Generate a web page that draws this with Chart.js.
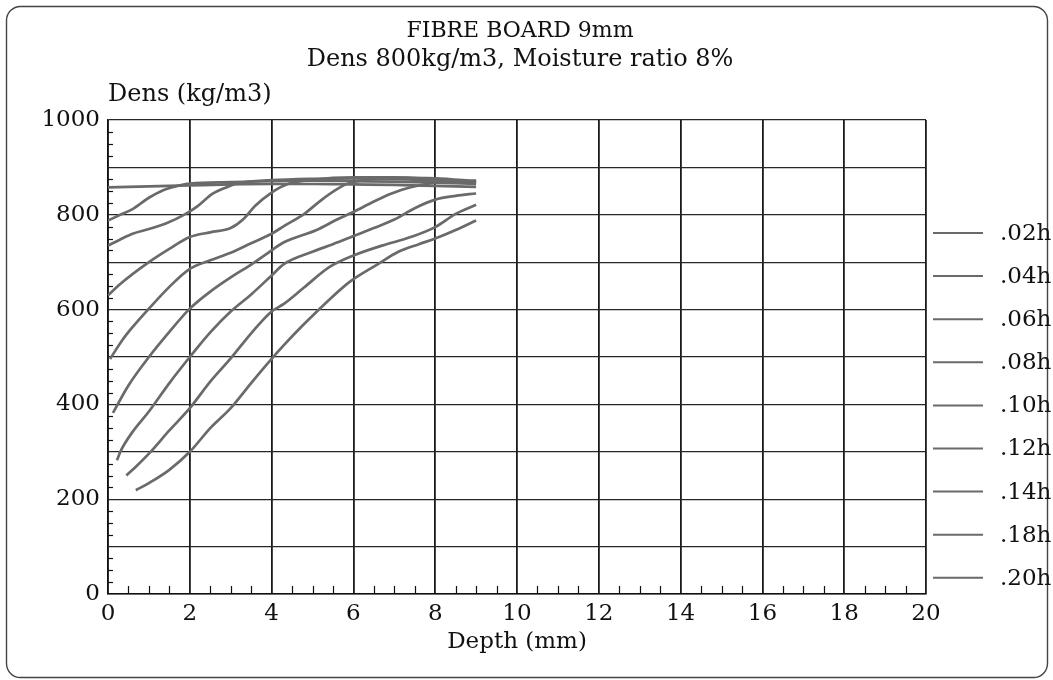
<!DOCTYPE html>
<html>
<head>
<meta charset="utf-8">
<script src="https://cdn.jsdelivr.net/npm/chart.js@4.4.0/dist/chart.umd.min.js"></script>
<style>
html,body{margin:0;padding:0;background:#fff;}
#wrap{width:1053px;height:680px;position:relative;}
</style>
</head>
<body>
<div id="wrap"><canvas id="c" width="1053" height="680"></canvas></div>
<script>
// ---- data (depth in mm, density in kg/m3) ----
const titleLines = ['FIBRE BOARD 9mm', 'Dens 800kg/m3, Moisture ratio 8%'];
const seriesLabels = ['.02h', '.04h', '.06h', '.08h', '.10h', '.12h', '.14h', '.18h', '.20h'];

const depth02 = [0, 1, 2, 3, 4, 5, 6, 7, 8, 9];
const dens02  = [858, 860, 862, 864, 865, 865, 864, 863, 861, 859];

const depth04 = [0, 0.3, 0.6, 1.0, 1.35, 1.7, 2.0, 3, 4, 5, 6, 7, 8, 9];
const dens04  = [788, 800, 812, 836, 852, 861, 866, 869, 871, 872, 871, 870, 868, 865];

const depth06 = [0, 0.3, 0.6, 1.0, 1.4, 1.9, 2.2, 2.55, 2.9, 3.2, 4, 5, 6, 7, 8, 9];
const dens06  = [735, 748, 760, 770, 781, 802, 819, 844, 858, 867, 873, 876, 877, 876, 872, 867];

const depth08 = [0, 0.3, 1.0, 1.5, 2.0, 2.5, 3.0, 3.3, 3.6, 4.0, 4.4, 5, 6, 7, 8, 9];
const dens08  = [630, 654, 700, 728, 753, 763, 772, 790, 819, 847, 865, 874, 879, 879, 875, 869];

const depth10 = [0.05, 0.37, 0.6, 1.0, 1.5, 2.0, 2.5, 3.0, 3.5, 4.0, 4.3, 4.8, 5.2, 5.6, 5.9, 7, 8, 9];
const dens10  = [496, 538, 563, 602, 648, 686, 704, 720, 740, 760, 776, 802, 830, 854, 867, 878, 877, 871];

const depth12 = [0.12, 0.5, 1.0, 1.5, 2.0, 2.5, 3.0, 3.5, 4.0, 4.3, 5.1, 5.6, 6.0, 6.5, 6.9, 7.4, 8.0, 9];
const dens12  = [382, 440, 500, 553, 602, 638, 668, 695, 725, 742, 768, 790, 806, 828, 844, 858, 868, 872];

const depth14 = [0.22, 0.3, 0.6, 1.0, 1.5, 2.0, 2.5, 3.0, 3.5, 4.0, 4.3, 5.0, 5.5, 6.0, 6.5, 7.0, 7.5, 8.0, 8.5, 9.0];
const dens14  = [282, 300, 342, 385, 445, 500, 552, 596, 632, 672, 696, 722, 738, 755, 772, 790, 814, 832, 840, 845];

const depth18 = [0.45, 0.7, 1.0, 1.5, 2.0, 2.5, 3.0, 3.5, 4.0, 4.3, 4.8, 5.4, 6.0, 6.7, 7.4, 8.0, 8.5, 9.0];
const dens18  = [250, 270, 296, 345, 392, 448, 497, 550, 596, 612, 647, 689, 714, 735, 753, 774, 802, 821];

const depth20 = [0.68, 1.0, 1.5, 2.0, 2.5, 3.0, 3.5, 4.0, 4.3, 4.8, 5.3, 5.9, 6.6, 7.1, 7.6, 8.0, 8.5, 9.0];
const dens20  = [219, 234, 262, 300, 350, 392, 445, 496, 525, 570, 612, 658, 696, 722, 738, 750, 768, 788];

const xTickStep = 2;
const yTickStep = 100;
const yLabelStep = 200;

const seriesDepths = [depth02, depth04, depth06, depth08, depth10, depth12, depth14, depth18, depth20];
const seriesDens   = [dens02, dens04, dens06, dens08, dens10, dens12, dens14, dens18, dens20];

// ---- styling ----
const FONT = '"DejaVu Serif", "Liberation Serif", serif';
const LINE_COLOR = '#6a6a6a';
const INK = '#111';

const datasets = seriesLabels.map((lab, i) => ({
  label: lab,
  data: seriesDepths[i].map((x, j) => ({x: x, y: seriesDens[i][j]})),
  borderColor: LINE_COLOR,
  borderWidth: 2.7,
  pointRadius: 0,
  fill: false,
  cubicInterpolationMode: 'monotone'
}));

const decor = {
  id: 'decor',
  beforeDraw(chart) {
    const c = chart.ctx;
    c.save();
    c.fillStyle = '#fff';
    c.fillRect(0, 0, chart.width, chart.height);
    // outer rounded frame
    c.strokeStyle = '#444';
    c.lineWidth = 1.4;
    c.beginPath();
    c.roundRect(6.5, 6.5, chart.width - 12, chart.height - 9, 14);
    c.stroke();
    c.restore();
  },
  afterDraw(chart) {
    const c = chart.ctx;
    const a = chart.chartArea;
    const xs = chart.scales.x, ys = chart.scales.y;
    c.save();
    // chart title, centred over the plot area
    const cx = (a.left + a.right) / 2 + 3;
    c.fillStyle = INK;
    c.textAlign = 'center';
    c.textBaseline = 'alphabetic';
    c.font = '22px ' + FONT;
    c.fillText(titleLines[0], cx, 37);
    c.font = '24px ' + FONT;
    c.fillText(titleLines[1], cx, 66);
    // minor ticks on y axis
    c.strokeStyle = INK;
    c.lineWidth = 1.2;
    for (let v = 25; v < 1000; v += 25) {
      if (v % 100 === 0) continue;
      const py = Math.round(ys.getPixelForValue(v)) + 0.5;
      c.beginPath(); c.moveTo(a.left, py); c.lineTo(a.left + 5, py); c.stroke();
    }
    // minor ticks on x axis
    for (let v = 0.5; v < 20; v += 0.5) {
      if (v % 2 === 0) continue;
      const px = Math.round(xs.getPixelForValue(v)) + 0.5;
      c.beginPath(); c.moveTo(px, a.bottom); c.lineTo(px, a.bottom - 8); c.stroke();
    }
    // y axis title above plot
    c.fillStyle = INK;
    c.font = '24px ' + FONT;
    c.textAlign = 'left';
    c.fillText('Dens (kg/m3)', a.left, 101);
    // legend at right
    const lx0 = a.right + 7, lx1 = a.right + 57, tx = a.right + 74;
    const top = a.top + 113, step = 43.1;
    c.font = '23px ' + FONT;
    c.textBaseline = 'middle';
    chart.data.datasets.forEach((ds, i) => {
      const y = top + i * step;
      c.strokeStyle = ds.borderColor;
      c.lineWidth = 2;
      c.beginPath(); c.moveTo(lx0, y); c.lineTo(lx1, y); c.stroke();
      c.fillStyle = INK;
      c.fillText(ds.label, tx, y + 1);
    });
    c.restore();
  }
};

new Chart(document.getElementById('c'), {
  type: 'line',
  data: { datasets: datasets },
  options: {
    responsive: false,
    animation: false,
    devicePixelRatio: 1,
    layout: { padding: { left: 0, right: 127, top: 120, bottom: 0 } },
    plugins: {
      legend: { display: false },
      tooltip: { enabled: false },
      title: { display: false }
    },
    scales: {
      x: {
        type: 'linear',
        min: 0, max: 20,
        border: { color: INK, width: 1.5 },
        grid: { color: '#1a1a1a', lineWidth: 1.8, drawTicks: false },
        ticks: { stepSize: xTickStep, color: INK, font: { family: FONT, size: 23 }, padding: 6, maxRotation: 0, autoSkip: false },
        title: { display: true, text: 'Depth (mm)', color: INK, font: { family: FONT, size: 23 }, padding: { top: 0, bottom: 24 } },
        afterFit(s) { s.height = 86; }
      },
      y: {
        min: 0, max: 1000,
        border: { color: INK, width: 1.5 },
        grid: { color: '#262626', lineWidth: 1.2, drawTicks: false },
        ticks: {
          stepSize: yTickStep, color: INK, font: { family: FONT, size: 23 }, padding: 8, autoSkip: false,
          callback: v => (v % yLabelStep === 0 ? String(v) : '')
        },
        afterFit(s) { s.width = 108; }
      }
    }
  },
  plugins: [decor]
});
</script>
</body>
</html>
